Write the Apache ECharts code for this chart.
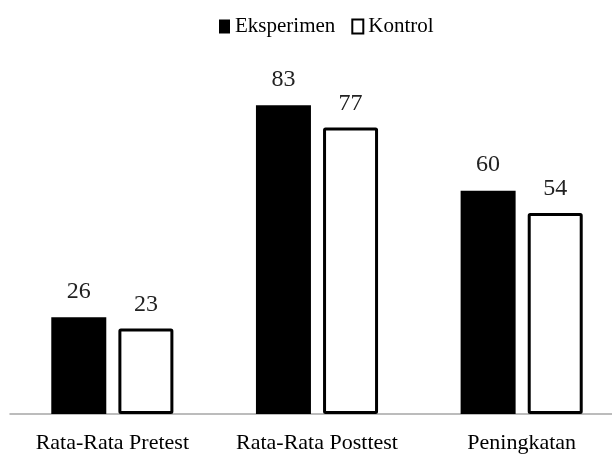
<!DOCTYPE html>
<html>
<head>
<meta charset="utf-8">
<script src="https://cdn.jsdelivr.net/npm/echarts@6/dist/echarts.min.js"></script>
<style>
  html, body { margin: 0; padding: 0; background: #fff; }
  #chart { width: 612px; height: 462px; }
</style>
</head>
<body>
<div id="chart"></div>
<script>
const categories = ['Rata-Rata Pretest', 'Rata-Rata Posttest', 'Peningkatan'];
const eksperimen = [26, 83, 60];
const kontrol = [23, 77, 54];

const font = '"Liberation Serif", serif';

const chart = echarts.init(document.getElementById('chart'));
chart.setOption({
  animation: false,
  textStyle: { fontFamily: font },
  legend: {
    top: 11,
    left: 214,
    itemWidth: 11,
    itemHeight: 14,
    itemGap: 16,
    textStyle: { fontFamily: font, fontSize: 21, color: '#000' },
    data: [
      { name: 'Eksperimen', icon: 'rect' },
      { name: 'Kontrol', icon: 'rect' },
    ],
  },
  grid: { left: 10, width: 614, top: 42, bottom: 48, outerBoundsMode: 'none' },
  xAxis: {
    type: 'category',
    data: categories,
    axisTick: { show: false },
    axisLine: { lineStyle: { color: '#a6a6a6', width: 1.5 } },
    axisLabel: { interval: 0, fontFamily: font, fontSize: 22, color: '#000', margin: 18 },
  },
  yAxis: {
    type: 'value',
    min: 0,
    max: 100,
    show: false,
    splitLine: { show: false },
  },
  series: [
    {
      name: 'Eksperimen',
      type: 'bar',
      data: eksperimen,
      barWidth: 55,
      barGap: '22%',
      itemStyle: { color: '#000' },
      label: { show: true, position: 'top', distance: 14, fontFamily: font, fontSize: 24, color: '#222' },
    },
    {
      name: 'Kontrol',
      type: 'bar',
      data: kontrol,
      barWidth: 55,
      itemStyle: { color: '#fff', borderColor: '#000', borderWidth: 3, borderRadius: 1 },
      label: { show: true, position: 'top', distance: 12, fontFamily: font, fontSize: 24, color: '#222' },
    },
  ],
});
</script>
</body>
</html>
